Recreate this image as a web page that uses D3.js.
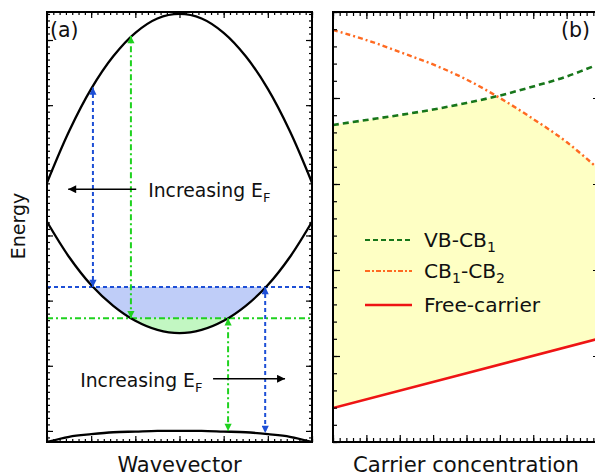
<!DOCTYPE html>
<html>
<head>
<meta charset="utf-8">
<script src="https://cdn.jsdelivr.net/npm/d3@7"></script>
<style>
  body { margin: 0; background: #fff; }
  svg { display: block; font-family: "DejaVu Sans", sans-serif; }
</style>
</head>
<body>
<svg width="595" height="476"></svg>
<script>
// ---- panel (a): band structure ----
const kGrid = [-3, -2.5, -2, -1.5, -1, -0.5, 0, 0.5, 1, 1.5, 2, 2.5, 3];
const cb2Band = [3.81, 4.60, 5.25, 5.75, 6.11, 6.33, 6.40, 6.33, 6.11, 5.75, 5.25, 4.60, 3.81];
const cb1Band = [3.21, 2.67, 2.24, 1.92, 1.69, 1.55, 1.50, 1.55, 1.69, 1.92, 2.24, 2.67, 3.21];
const vbBand  = [-0.17, -0.09, -0.05, -0.02, -0.01, 0, 0, 0, -0.01, -0.02, -0.05, -0.09, -0.17];

// Fermi levels (blue dashed, green dash-dot)
const fermiLevels = [
  { e: 2.21, color: "#1d4fd6", fill: "#bfcdf8", dash: "4,3" },
  { e: 1.73, color: "#1fd21f", fill: "#c2f7c2", dash: "6,3,2,3" }
];

// vertical transitions: k, from energy, to energy
const transitions = [
  { k: -1.96, e0: 2.21, e1: 5.27, level: 0 },
  { k: -1.10, e0: 1.73, e1: 6.06, level: 1 },
  { k:  1.10, e0: 1.73, e1: 0.00, level: 1 },
  { k:  1.94, e0: 2.21, e1: -0.03, level: 0 }
];

// ---- panel (b): transition energies vs carrier concentration ----
const concGrid = [0, 1, 2, 3, 4, 5, 6, 7, 8];
const vbCb1  = [3.686, 3.744, 3.802, 3.866, 3.942, 4.029, 4.134, 4.250, 4.400];
const cb1Cb2 = [4.791, 4.674, 4.535, 4.390, 4.215, 4.000, 3.756, 3.488, 3.160];
const freeConc = [0, 4, 8];
const freeCarrier = [0.395, 0.800, 1.205];

const legendItems = [
  { label: "VB-CB", sub: "1", color: "#17761a", dash: "5,3", width: 2 },
  { label: "CB", sub: "1", rest: "-CB", sub2: "2", color: "#ff6a21", dash: "5,2,2,2", width: 2 },
  { label: "Free-carrier", color: "#ee1414", dash: null, width: 2.5 }
];

const svg = d3.select("svg");
const defs = svg.append("defs");

// layout
const A = { x0: 47, x1: 312, y0: 12, y1: 442 };
const B = { x0: 333, x1: 600, y0: 12, y1: 442 };

const xA = d3.scaleLinear().domain([-3, 3]).range([A.x0, A.x1]);
const yA = d3.scaleLinear().domain([-0.17, 6.43]).range([A.y1, A.y0]);
const xB = d3.scaleLinear().domain([0, 8]).range([B.x0, B.x1]);
const yB = d3.scaleLinear().domain([0, 5]).range([B.y1, B.y0]);

// arrow markers
function marker(id, color, size) {
  defs.append("marker")
    .attr("id", id)
    .attr("viewBox", "0 0 10 10")
    .attr("refX", 10).attr("refY", 5)
    .attr("markerUnits", "userSpaceOnUse")
    .attr("markerWidth", size).attr("markerHeight", size * 0.8)
    .attr("orient", "auto-start-reverse")
    .append("path")
    .attr("d", "M0,0 L10,5 L0,10 z")
    .attr("fill", color);
}
marker("arrBlue", "#1d4fd6", 9);
marker("arrGreen", "#1fd21f", 9);
marker("arrBlack", "#000", 10);

// clip paths for panels
defs.append("clipPath").attr("id", "clipA").append("rect")
  .attr("x", A.x0).attr("y", A.y0).attr("width", A.x1 - A.x0).attr("height", A.y1 - A.y0);
defs.append("clipPath").attr("id", "clipB").append("rect")
  .attr("x", B.x0).attr("y", B.y0).attr("width", B.x1 - B.x0).attr("height", B.y1 - B.y0);

// ================= panel (a) =================
const gA = svg.append("g").attr("clip-path", "url(#clipA)");

const bandLine = d3.line()
  .x((d, i) => xA(kGrid[i]))
  .y(d => yA(d))
  .curve(d3.curveCatmullRom);

// filled electron pockets below each Fermi level
const aboveCb1 = d3.area()
  .x((d, i) => xA(kGrid[i]))
  .y0(d => yA(d))
  .y1(A.y0)
  .curve(d3.curveCatmullRom);

fermiLevels.forEach((f, i) => {
  defs.append("clipPath").attr("id", "ef" + i).append("rect")
    .attr("x", A.x0).attr("y", yA(f.e))
    .attr("width", A.x1 - A.x0).attr("height", A.y1 - yA(f.e));
  gA.append("g").attr("clip-path", `url(#ef${i})`)
    .append("path")
    .attr("d", aboveCb1(cb1Band))
    .attr("fill", f.fill);
});

// Fermi level lines
fermiLevels.forEach(f => {
  gA.append("line")
    .attr("x1", A.x0).attr("x2", A.x1)
    .attr("y1", yA(f.e)).attr("y2", yA(f.e))
    .attr("stroke", f.color).attr("stroke-width", 2)
    .attr("stroke-dasharray", f.dash);
});

// bands
[cb2Band, cb1Band, vbBand].forEach(b => {
  gA.append("path")
    .attr("d", bandLine(b))
    .attr("fill", "none")
    .attr("stroke", "#000")
    .attr("stroke-width", 2.3);
});

// transitions (double-headed)
transitions.forEach(t => {
  const f = fermiLevels[t.level];
  const m = t.level === 0 ? "url(#arrBlue)" : "url(#arrGreen)";
  svg.append("line")
    .attr("x1", xA(t.k)).attr("x2", xA(t.k))
    .attr("y1", yA(t.e0)).attr("y2", yA(t.e1))
    .attr("stroke", f.color).attr("stroke-width", 2)
    .attr("stroke-dasharray", f.dash)
    .attr("marker-start", m)
    .attr("marker-end", m);
});

// "Increasing E_F" annotations
function efLabel(g, x, y) {
  const t = g.append("text").attr("x", x).attr("y", y)
    .attr("font-size", 18.8).attr("fill", "#111");
  t.append("tspan").text("Increasing E");
  t.append("tspan").attr("dy", 5).attr("font-size", 13).text("F");
}
svg.append("line")
  .attr("x1", xA(-0.98)).attr("x2", xA(-2.52))
  .attr("y1", yA(3.71)).attr("y2", yA(3.71))
  .attr("stroke", "#000").attr("stroke-width", 1.6)
  .attr("marker-end", "url(#arrBlack)");
efLabel(svg, xA(-0.71), yA(3.59));

svg.append("line")
  .attr("x1", xA(0.76)).attr("x2", xA(2.39))
  .attr("y1", yA(0.80)).attr("y2", yA(0.80))
  .attr("stroke", "#000").attr("stroke-width", 1.6)
  .attr("marker-end", "url(#arrBlack)");
efLabel(svg, xA(-2.25), yA(0.675));

// ================= panel (b) =================
const gB = svg.append("g").attr("clip-path", "url(#clipB)");

const lineB = d3.line()
  .x((d, i) => xB(concGrid[i]))
  .y(d => yB(d))
  .curve(d3.curveCatmullRom);

// yellow region: above free-carrier, below both transition curves
defs.append("clipPath").attr("id", "belowOrange").append("path")
  .attr("d", d3.area()
    .x((d, i) => xB(concGrid[i])).y0(d => yB(d)).y1(B.y1)
    .curve(d3.curveCatmullRom)(cb1Cb2));
defs.append("clipPath").attr("id", "aboveRed").append("path")
  .attr("d", d3.area()
    .x((d, i) => xB(freeConc[i])).y0(d => yB(d)).y1(B.y0)(freeCarrier));

gB.append("g").attr("clip-path", "url(#belowOrange)")
  .append("g").attr("clip-path", "url(#aboveRed)")
  .append("path")
  .attr("d", d3.area()
    .x((d, i) => xB(concGrid[i])).y0(d => yB(d)).y1(B.y1)
    .curve(d3.curveCatmullRom)(vbCb1))
  .attr("fill", "#feffc4");

gB.append("path").attr("d", lineB(vbCb1))
  .attr("fill", "none").attr("stroke", legendItems[0].color)
  .attr("stroke-width", 2.6).attr("stroke-dasharray", "6,4");
gB.append("path").attr("d", lineB(cb1Cb2))
  .attr("fill", "none").attr("stroke", legendItems[1].color)
  .attr("stroke-width", 2.4).attr("stroke-dasharray", "5,3,2,3");
gB.append("path")
  .attr("d", d3.line().x((d, i) => xB(freeConc[i])).y(d => yB(d))(freeCarrier))
  .attr("fill", "none").attr("stroke", legendItems[2].color)
  .attr("stroke-width", 2.6);

// legend
const legend = svg.append("g").attr("transform", `translate(${B.x0 + 32},240)`);
legendItems.forEach((d, i) => {
  const gy = [0, 31, 65][i];
  legend.append("line")
    .attr("x1", 0).attr("x2", 47).attr("y1", gy).attr("y2", gy)
    .attr("stroke", d.color).attr("stroke-width", d.width)
    .attr("stroke-dasharray", d.dash);
  const t = legend.append("text").attr("x", 59).attr("y", gy + 7)
    .attr("font-size", 20.2).attr("fill", "#111");
  t.append("tspan").text(d.label);
  if (d.sub) t.append("tspan").attr("dy", 5).attr("font-size", 14).text(d.sub);
  if (d.rest) t.append("tspan").attr("dy", -5).text(d.rest);
  if (d.sub2) t.append("tspan").attr("dy", 5).attr("font-size", 14).text(d.sub2);
});

// ================= ticks and frames =================
function frameTicks(x, y, P, xMinor, xMajor, yMinor, yMajor, minLen, majLen) {
  [[xMinor, minLen], [xMajor, majLen]].forEach(([vals, len]) => {
    svg.append("g").attr("transform", `translate(0,${P.y1})`)
      .call(d3.axisBottom(x).tickValues(vals).tickSize(-len).tickFormat(""));
    svg.append("g").attr("transform", `translate(0,${P.y0})`)
      .call(d3.axisTop(x).tickValues(vals).tickSize(-len).tickFormat(""));
  });
  [[yMinor, minLen], [yMajor, majLen]].forEach(([vals, len]) => {
    svg.append("g").attr("transform", `translate(${P.x0},0)`)
      .call(d3.axisLeft(y).tickValues(vals).tickSize(-len).tickFormat(""));
    svg.append("g").attr("transform", `translate(${P.x1},0)`)
      .call(d3.axisRight(y).tickValues(vals).tickSize(-len).tickFormat(""));
  });
  svg.append("rect")
    .attr("x", P.x0).attr("y", P.y0)
    .attr("width", P.x1 - P.x0).attr("height", P.y1 - P.y0)
    .attr("fill", "none").attr("stroke", "#000").attr("stroke-width", 2);
}

frameTicks(xA, yA, A,
  d3.range(-21, 22).map(i => i / 7), d3.range(-3, 4),
  d3.range(-1, 65).map(i => i / 10), d3.range(0, 7),
  3, 6);
frameTicks(xB, yB, B,
  d3.range(0, 41).map(i => i / 5), d3.range(0, 9),
  d3.range(0, 26).map(i => i / 5), d3.range(0, 6),
  4, 7);
svg.selectAll(".domain").remove();
svg.selectAll(".tick line").attr("stroke-width", 1.2);

// ================= labels =================
svg.append("text").attr("x", A.x0 + 3).attr("y", 37)
  .attr("font-size", 20.5).attr("fill", "#111").text("(a)");
svg.append("text").attr("x", 561).attr("y", 37)
  .attr("font-size", 20.5).attr("fill", "#111").text("(b)");

svg.append("text")
  .attr("transform", `translate(25,${(A.y0 + A.y1) / 2 - 1}) rotate(-90)`)
  .attr("text-anchor", "middle").attr("font-size", 19).attr("fill", "#111")
  .text("Energy");
svg.append("text")
  .attr("x", (A.x0 + A.x1) / 2).attr("y", 472)
  .attr("text-anchor", "middle").attr("font-size", 21).attr("fill", "#111")
  .text("Wavevector");
svg.append("text")
  .attr("x", 466).attr("y", 472)
  .attr("text-anchor", "middle").attr("font-size", 21.2).attr("fill", "#111")
  .text("Carrier concentration");
</script>
</body>
</html>
